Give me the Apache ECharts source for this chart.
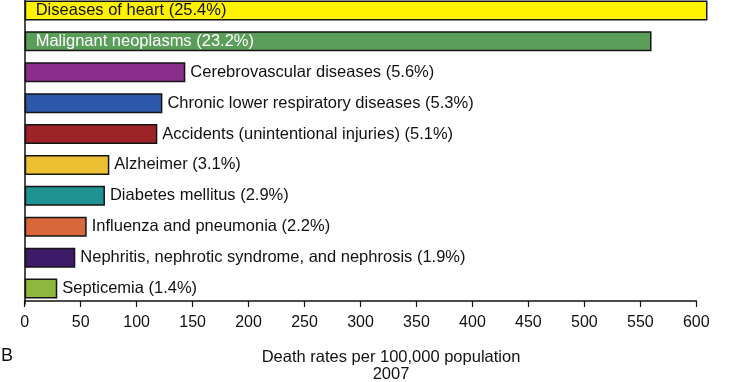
<!DOCTYPE html>
<html><head><meta charset="utf-8">
<script src="https://cdn.jsdelivr.net/npm/echarts@6/dist/echarts.min.js"></script>
<style>html,body{margin:0;padding:0;background:#fff;overflow:hidden}#c{position:absolute;left:0;top:-5px;width:730px;height:387px}</style>
</head><body><div id="c"></div>
<script>
var causes = ["Diseases of heart","Malignant neoplasms","Cerebrovascular diseases","Chronic lower respiratory diseases","Accidents (unintentional injuries)","Alzheimer","Diabetes mellitus","Influenza and pneumonia","Nephritis, nephrotic syndrome, and nephrosis","Septicemia"];
var shares = ["25.4%","23.2%","5.6%","5.3%","5.1%","3.1%","2.9%","2.2%","1.9%","1.4%"];
var rates = [610, 560, 143.5, 123, 118.5, 75.6, 71.7, 55.4, 45.2, 29.1];
var xTicks = [0,50,100,150,200,250,300,350,400,450,500,550,600];
var colors = ["#FFF200","#5A9E59","#8B2D8A","#2B58A8","#9C2428","#ECC032","#1F9292","#D8683A","#3E1B68","#8DB83B"];
var insideCount = 2;
var font = "Liberation Sans, Arial, Helvetica, sans-serif";

var data = rates.map(function(v,i){
  var inside = i < insideCount;
  return {
    value: v,
    itemStyle: {color: colors[i]},
    label: {
      position: inside ? 'insideLeft' : 'right',
      distance: inside ? 11 : 5,
      color: i === 1 ? '#fff' : '#111'
    }
  };
});

var chart = echarts.init(document.getElementById('c'));
chart.setOption({
  animation: false,
  grid: {left: 24.7, right: 33.7, top: 0, bottom: 78},
  xAxis: {
    type: 'value', min: 0, max: 600, interval: 50, offset: -3,
    axisLine: {show: true, lineStyle: {color: '#111', width: 1.5}},
    axisTick: {show: true, length: 6, lineStyle: {color: '#111', width: 1.2}},
    splitLine: {show: false},
    axisLabel: {color: '#111', fontSize: 16, fontFamily: font, margin: 14,
      formatter: function(v){ return xTicks.indexOf(v) >= 0 ? String(v) : ''; }}
  },
  yAxis: {
    type: 'category', inverse: true, data: causes,
    axisLine: {show: true, lineStyle: {color: '#111', width: 1.5}},
    axisTick: {show: false}, axisLabel: {show: false}
  },
  series: [{
    type: 'bar', data: data, barWidth: 20, clip: false,
    itemStyle: {borderColor: '#151515', borderWidth: 1.5},
    label: {show: true, fontSize: 16.5, fontFamily: font,
      formatter: function(p){ return causes[p.dataIndex] + ' (' + shares[p.dataIndex] + ')'; }}
  }],
  graphic: [
    {type: 'text', left: 1, top: 352, style: {text: 'B', font: '18px ' + font, fill: '#111'}},
    {type: 'text', x: 391, y: 354, style: {text: 'Death rates per 100,000 population\n2007', font: '16.5px ' + font, fill: '#111', align: 'center', lineHeight: 17}}
  ]
});
</script>
</body></html>
